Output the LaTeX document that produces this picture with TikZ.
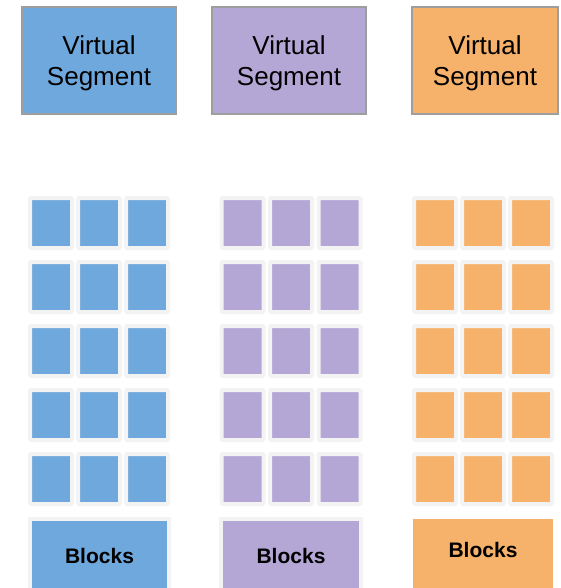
\documentclass[tikz,border=0pt]{standalone}
\usepackage{fontspec}
\setmainfont{Liberation Sans}
\usepackage{xcolor}
\definecolor{segblue}{HTML}{6FA8DC}
\definecolor{segpurple}{HTML}{B4A7D6}
\definecolor{segorange}{HTML}{F6B26B}
\definecolor{edgegray}{HTML}{9E9E9E}
\definecolor{framegray}{HTML}{F3F3F3}
\usetikzlibrary{positioning}

\begin{document}
\begin{tikzpicture}[x=1pt, y=-1pt,
    segment/.style={rectangle, draw=edgegray, line width=1.5pt, minimum width=154pt, minimum height=107pt, font=\fontsize{26}{31}\selectfont, align=center, text depth=0pt},
    cell/.style={rectangle, draw=framegray, line width=4pt, rounded corners=1pt, minimum width=42pt, minimum height=50pt},
    pool/.style={rectangle, draw=framegray, line width=4pt, minimum width=140pt, minimum height=74pt, font=\fontsize{21}{25}\selectfont\bfseries}
  ]
    \useasboundingbox (0,0) rectangle (560,588);

    % virtual segments
    \node[segment, fill=segblue] (seg-a) at (99,60.5) {Virtual\\Segment};
    \node[segment, fill=segpurple] (seg-b) at (289,60.5) {Virtual\\Segment};
    \node[segment, fill=segorange, minimum width=146pt] (seg-c) at (485,60.5) {Virtual\\Segment};

    % blocks of each segment
    \foreach \nm/\col/\xa/\xb/\xc in {a/segblue/51/99/147, b/segpurple/242.5/291/339.5, c/segorange/435/483/531}{
      \foreach \r [evaluate=\r as \y using 223+64*(\r-1)] in {1,...,5}{
        \node[cell, fill=\col] (blk-\nm-\r-1) at (\xa,\y) {};
        \node[cell, fill=\col] (blk-\nm-\r-2) at (\xb,\y) {};
        \node[cell, fill=\col] (blk-\nm-\r-3) at (\xc,\y) {};
      }
    }

    \node[pool, fill=segblue, minimum width=139pt] (pool-a) at (99.5,556) {Blocks};
    \node[pool, fill=segpurple] (pool-b) at (291,556) {Blocks};
    \node[pool, draw=none, fill=segorange, minimum height=73pt, text depth=11pt] (pool-c) at (483,555.5) {Blocks};
  \end{tikzpicture}
\end{document}
